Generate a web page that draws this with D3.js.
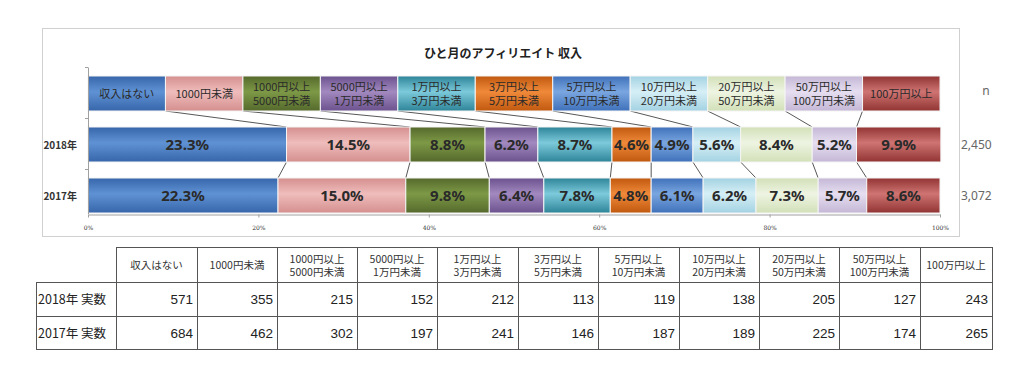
<!DOCTYPE html>
<meta charset="utf-8">
<style>
  body { margin: 0; background: #fff; }
  text { font-family: "Noto Sans CJK JP", "Noto Sans", sans-serif; }
  .pct { font-family: "Noto Sans", "Noto Sans CJK JP", sans-serif; font-size: 15px; font-weight: bold; fill: #2a2a2a; }
  .lab { font-size: 11px; fill: #2a2a2a; }
  .num { font-family: "Liberation Sans", Arial, sans-serif; font-size: 13.5px; fill: #222; }
  .side { font-family: "Noto Sans", sans-serif; font-size: 12px; fill: #666; }
  .xaxis text { font-size: 6px; fill: #333; font-family: "DejaVu Serif", serif; }
  .xaxis path, .xaxis line { stroke: #a0a0a0; }
</style>
<body>
<script src="https://cdn.jsdelivr.net/npm/d3@7/dist/d3.min.js"></script>
<script>
// data
var categories = ["収入はない", "1000円未満", "1000円以上\n5000円未満", "5000円以上\n1万円未満",
  "1万円以上\n3万円未満", "3万円以上\n5万円未満", "5万円以上\n10万円未満", "10万円以上\n20万円未満",
  "20万円以上\n50万円未満", "50万円以上\n100万円未満", "100万円以上"];
var years = ["2018年", "2017年"];
var pct2018 = [23.3, 14.5, 8.8, 6.2, 8.7, 4.6, 4.9, 5.6, 8.4, 5.2, 9.9];
var pct2017 = [22.3, 15.0, 9.8, 6.4, 7.8, 4.8, 6.1, 6.2, 7.3, 5.7, 8.6];
var nValues = ["2,450", "3,072"];
var count2018 = [571, 355, 215, 152, 212, 113, 119, 138, 205, 127, 243];
var count2017 = [684, 462, 302, 197, 241, 146, 187, 189, 225, 174, 265];
var xTicks = [0, 20, 40, 60, 80, 100];

// colours (dark edge, light middle)
var colors = [
  ["#3766aa", "#5f92d4"], ["#d48f8e", "#efbdbc"], ["#55692c", "#7d9946"], ["#6c528e", "#a289bf"],
  ["#2e8498", "#7ccadb"], ["#c0580e", "#f08a3a"], ["#3f71ba", "#7aa6e0"], ["#a3d2e2", "#d6eff6"],
  ["#d2e0b8", "#eef4e2"], ["#c4b7d6", "#e6def0"], ["#913433", "#cf7472"]
];

var svg = d3.select("body").append("svg").attr("width", 1024).attr("height", 373);

var defs = svg.append("defs");
colors.forEach(function(c, i) {
  var g = defs.append("linearGradient").attr("id", "g" + i)
      .attr("x1", 0).attr("y1", 0).attr("x2", 0).attr("y2", 1);
  g.append("stop").attr("offset", "0%").attr("stop-color", c[0]);
  g.append("stop").attr("offset", "45%").attr("stop-color", c[1]);
  g.append("stop").attr("offset", "100%").attr("stop-color", c[0]);
});

// chart frame
svg.append("rect").attr("x", 42.5).attr("y", 28.5).attr("width", 917).attr("height", 208)
    .attr("fill", "#fff").attr("stroke", "#d0d0d0");

svg.append("text").attr("x", 503).attr("y", 58).attr("text-anchor", "middle")
    .style("font-size", "12px").style("font-weight", "bold").attr("fill", "#222")
    .text("ひと月のアフィリエイト 収入");

var x = d3.scaleLinear().domain([0, 100]).range([88, 940]);
var rows = ["legend"].concat(years);
var y = d3.scaleBand().domain(rows).range([68, 221])
    .paddingInner(16 / 51).paddingOuter(8 / 51);

// stacked rows
function stack(vals) {
  var acc = 0;
  return vals.map(function(v, i) { var s = acc; acc += v; return {i: i, v: v, x0: s, x1: acc}; });
}
var legendRow = stack(categories.map(function() { return 100 / categories.length; }));
var rowData = [
  {key: "legend", segs: legendRow},
  {key: years[0], segs: stack(pct2018)},
  {key: years[1], segs: stack(pct2017)}
];

// connector lines
for (var r = 0; r < rowData.length - 1; r++) {
  var a = rowData[r], b = rowData[r + 1];
  svg.append("g").selectAll("line")
    .data(a.segs.slice(0, a.segs.length - 1))
    .enter().append("line")
      .attr("x1", function(d) { return x(d.x1); })
      .attr("y1", y(a.key) + y.bandwidth())
      .attr("x2", function(d, i) { return x(b.segs[i].x1); })
      .attr("y2", y(b.key))
      .attr("stroke", "#444").attr("stroke-width", 0.9);
}

rowData.forEach(function(row) {
  var g = svg.append("g");
  g.selectAll("rect").data(row.segs).enter().append("rect")
      .attr("x", function(d) { return x(d.x0); })
      .attr("y", y(row.key))
      .attr("width", function(d) { return x(d.x1) - x(d.x0); })
      .attr("height", y.bandwidth())
      .attr("fill", function(d) { return "url(#g" + d.i + ")"; })
      .attr("stroke", "#f4f4f4").attr("stroke-width", 1);
  if (row.key === "legend") {
    g.selectAll("text").data(row.segs).enter().append("text")
        .attr("class", "lab")
        .attr("text-anchor", "middle")
        .attr("x", function(d) { return (x(d.x0) + x(d.x1)) / 2; })
        .each(function(d) {
          var lines = categories[d.i].split("\n");
          var t = d3.select(this);
          var cy = y(row.key) + y.bandwidth() / 2;
          lines.forEach(function(l, k) {
            t.append("tspan").attr("x", (x(d.x0) + x(d.x1)) / 2)
              .attr("y", cy + 4 + (k - (lines.length - 1) / 2) * 14).text(l);
          });
        });
  } else {
    g.selectAll("text").data(row.segs).enter().append("text")
        .attr("class", "pct")
        .attr("text-anchor", "middle")
        .attr("x", function(d) { return (x(d.x0) + x(d.x1)) / 2; })
        .attr("y", y(row.key) + y.bandwidth() / 2 + 5.5)
        .text(function(d) { return d.v.toFixed(1) + "%"; });
  }
});

// y axis
var yAxis = svg.append("g");
yAxis.append("line").attr("x1", 88.5).attr("x2", 88.5).attr("y1", 68).attr("y2", 214)
    .attr("stroke", "#a0a0a0");
yAxis.selectAll("line.t").data(rows).enter().append("line").attr("class", "t")
    .attr("x1", 85).attr("x2", 88.5)
    .attr("y1", function(d) { return y(d) - 8.5; })
    .attr("y2", function(d) { return y(d) - 8.5; })
    .attr("stroke", "#a0a0a0");
yAxis.selectAll("text").data(years).enter().append("text")
    .attr("x", 77).attr("text-anchor", "end")
    .attr("y", function(d) { return y(d) + y.bandwidth() / 2 + 4; })
    .style("font-size", "10px").style("font-weight", "bold").attr("fill", "#333")
    .text(function(d) { return d; });

// x axis
svg.append("g").attr("class", "xaxis")
    .attr("transform", "translate(0,214.5)")
    .call(d3.axisBottom(x).tickValues(xTicks).tickSize(3).tickSizeOuter(0)
      .tickFormat(function(d) { return d + "%"; }))
    .selectAll("text").attr("dy", "1.6em");

// n column
svg.append("text").attr("class", "side").attr("x", 986).attr("y", 95)
    .attr("text-anchor", "middle").text("n");
svg.selectAll("text.nv").data(nValues).enter().append("text").attr("class", "side nv")
    .attr("x", 961)
    .attr("y", function(d, i) { return y(years[i]) + y.bandwidth() / 2 + 4; })
    .text(function(d) { return d; });

// table
var colX = [116, 197, 277, 357, 437, 518, 598, 679, 759, 839, 920, 992];
var rowY = [247, 282, 316, 349];
var tbl = svg.append("g").attr("fill", "none").attr("stroke", "#555").attr("stroke-width", 1);
// header row
tbl.append("rect").attr("x", 116.5).attr("y", 247.5).attr("width", 992 - 116).attr("height", 282 - 247);
tbl.append("rect").attr("x", 36.5).attr("y", 282.5).attr("width", 992 - 36).attr("height", 349 - 282);
tbl.append("line").attr("x1", 36.5).attr("x2", 992.5).attr("y1", 316.5).attr("y2", 316.5);
colX.slice(1, -1).forEach(function(cx) {
  tbl.append("line").attr("x1", cx + 0.5).attr("x2", cx + 0.5).attr("y1", 247.5).attr("y2", 349.5);
});
tbl.append("line").attr("x1", 116.5).attr("x2", 116.5).attr("y1", 282.5).attr("y2", 349.5);

var head = svg.append("g");
categories.forEach(function(c, i) {
  var lines = c.split("\n");
  var cx = (colX[i] + colX[i + 1]) / 2;
  var t = head.append("text").attr("text-anchor", "middle")
      .style("font-size", "10.5px").attr("fill", "#333");
  lines.forEach(function(l, k) {
    t.append("tspan").attr("x", cx)
      .attr("y", 269 + (k - (lines.length - 1) / 2) * 13).text(l);
  });
});

var tableRows = [
  {label: years[0] + " 実数", vals: count2018},
  {label: years[1] + " 実数", vals: count2017}
];
tableRows.forEach(function(r, ri) {
  var cy = (rowY[ri + 1] + rowY[ri + 2]) / 2 + 5;
  svg.append("text").attr("x", 38).attr("y", cy)
      .style("font-size", "12.5px").attr("fill", "#222").text(r.label);
  svg.selectAll(null).data(r.vals).enter().append("text").attr("class", "num")
      .attr("text-anchor", "end")
      .attr("x", function(d, i) { return colX[i + 1] - 4; })
      .attr("y", cy)
      .text(function(d) { return d; });
});
</script>
</body>
